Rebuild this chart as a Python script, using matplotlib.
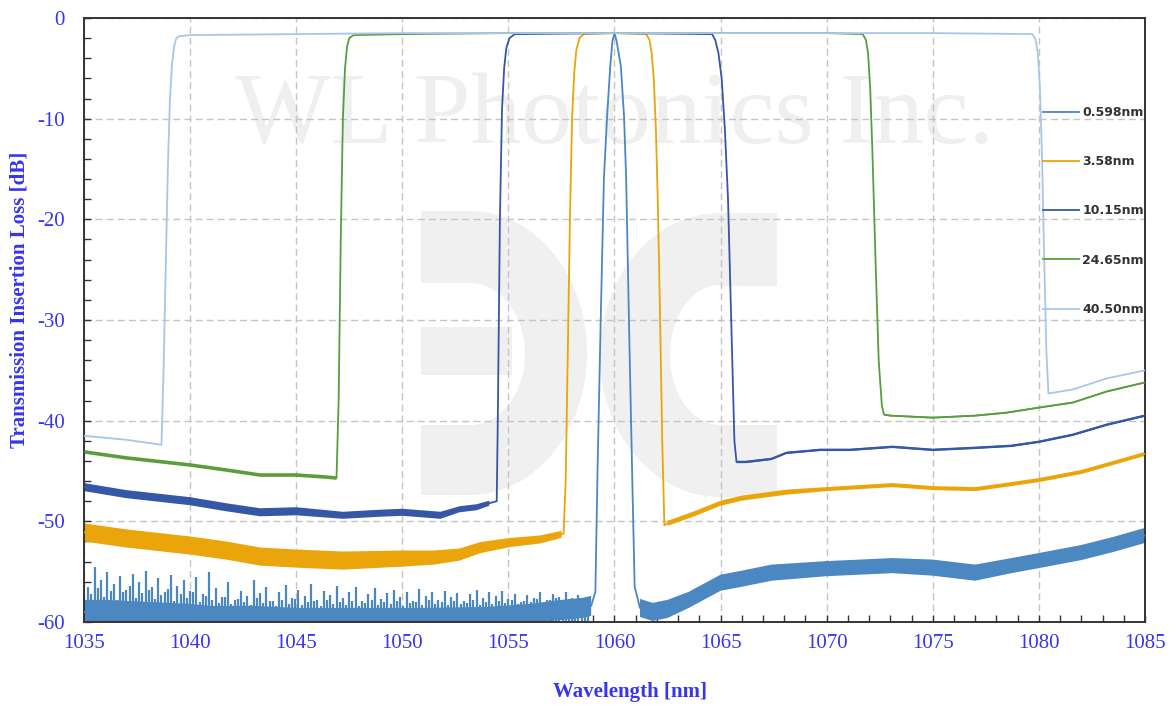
import matplotlib.pyplot as plt
from matplotlib.patches import Rectangle, Ellipse
from matplotlib.ticker import MultipleLocator
import numpy as np

plt.rcParams["axes.unicode_minus"] = False

# ---- data (wavelength nm, insertion loss dB, noise half-width dB) ----
wl_0598 = [1035, 1036, 1037, 1038, 1039, 1040, 1041, 1043, 1045, 1048, 1051, 1054, 1056, 1057.5, 1058.5,
           1058.9, 1059.1, 1059.2, 1059.35, 1059.5, 1059.65, 1059.8, 1059.9, 1060.0, 1060.1, 1060.3,
           1060.45, 1060.55, 1060.7, 1060.85, 1060.95, 1061.2, 1061.8, 1062.5, 1063.5, 1065, 1066,
           1067.4, 1070, 1073.1, 1075, 1077, 1078.7, 1080, 1082, 1083.5, 1085]
il_0598 = [-59.0, -59.0, -59.1, -59.1, -59.2, -59.2, -59.3, -59.3, -59.4, -59.4, -59.4, -59.3, -59.1, -58.8, -58.6,
           -58.4, -57.0, -45.0, -30.0, -16.0, -9.8, -4.8, -2.3, -1.5, -2.3, -4.8,
           -9.8, -16.0, -32.0, -47.0, -56.5, -58.6, -59.0, -58.7, -57.8, -56.1, -55.7,
           -55.1, -54.7, -54.4, -54.6, -55.1, -54.4, -53.9, -53.1, -52.3, -51.4]
nz_0598 = [1.2, 1.2, 1.2, 1.1, 1.1, 1.0, 0.9, 0.9, 0.8, 0.8, 0.8, 0.8, 0.9, 1.0, 1.0,
           1.0, 0, 0, 0, 0, 0, 0, 0, 0, 0, 0,
           0, 0, 0, 0, 0, 0.9, 0.9, 0.9, 0.8, 0.8, 0.8,
           0.8, 0.75, 0.75, 0.8, 0.8, 0.75, 0.75, 0.75, 0.75, 0.75]

# spikes of the 0.598nm noise floor on the short-wavelength side (tall and short ones)
spike_wl = [1035.2, 1035.5, 1035.8, 1036.1, 1036.4, 1036.7, 1037.0, 1037.3, 1037.6, 1037.9, 1038.2, 1038.5,
            1038.8, 1039.1, 1039.4, 1039.7, 1040.0, 1040.3, 1040.6, 1040.9, 1041.2, 1041.5, 1041.8, 1042.1,
            1042.4, 1042.7, 1043.0, 1043.3, 1043.6, 1043.9, 1044.2, 1044.5, 1044.8, 1045.1, 1045.4, 1045.7,
            1046.0, 1046.3, 1046.6, 1046.9, 1047.2, 1047.5, 1047.8, 1048.1, 1048.4, 1048.7, 1049.0, 1049.3,
            1049.6, 1049.9, 1050.2, 1050.5, 1050.8, 1051.1, 1051.4, 1051.7, 1052.0, 1052.3, 1052.6, 1052.9,
            1053.2, 1053.5, 1053.8, 1054.1, 1054.4, 1054.7, 1055.0, 1055.3, 1055.6, 1055.9, 1056.2, 1056.5,
            1056.8, 1057.1, 1057.4, 1057.7, 1058.0, 1058.3, 1058.6]
spike_top = [-56.5, -54.5, -55.8, -55.0, -56.2, -55.4, -56.8, -55.2, -56.0, -54.9, -56.5, -55.6,
             -57.0, -55.3, -56.4, -55.8, -56.9, -55.5, -57.2, -55.0, -56.6, -57.5, -56.0, -57.8,
             -56.9, -57.4, -55.8, -57.1, -56.5, -57.9, -57.0, -56.3, -57.6, -56.8, -57.4, -56.2,
             -57.8, -56.9, -57.3, -56.4, -57.6, -57.0, -56.5, -57.9, -57.2, -56.6, -57.7, -57.1,
             -56.8, -57.5, -57.0, -57.9, -56.7, -57.4, -57.0, -57.8, -56.9, -57.5, -57.1, -57.9,
             -57.2, -56.8, -57.6, -57.0, -57.4, -56.9, -57.7, -57.2, -58.0, -57.3, -57.6, -57.0,
             -57.8, -57.2, -57.5, -57.0, -57.6, -57.3, -57.8]
spike2_wl = [1035.35, 1035.65, 1035.95, 1036.25, 1036.55, 1036.85, 1037.15, 1037.45, 1037.75, 1038.05,
             1038.35, 1038.65, 1038.95, 1039.25, 1039.55, 1039.85, 1040.15, 1040.45, 1040.75, 1041.05,
             1041.35, 1041.65, 1041.95, 1042.25, 1042.55, 1042.85, 1043.15, 1043.45, 1043.75, 1044.05,
             1044.35, 1044.65, 1044.95, 1045.25, 1045.55, 1045.85, 1046.15, 1046.45, 1046.75, 1047.05,
             1047.35, 1047.65, 1047.95, 1048.25, 1048.55, 1048.85, 1049.15, 1049.45, 1049.75, 1050.05,
             1050.35, 1050.65, 1050.95, 1051.25, 1051.55, 1051.85, 1052.15, 1052.45, 1052.75, 1053.05,
             1053.35, 1053.65, 1053.95, 1054.25, 1054.55, 1054.85, 1055.15, 1055.45, 1055.75, 1056.05,
             1056.35, 1056.65, 1056.95, 1057.25, 1057.55, 1057.85, 1058.15, 1058.45, 1058.75]
spike2_top = [-57.2, -56.6, -57.5, -56.9, -57.8, -57.0, -56.4, -57.6, -57.1, -56.8, -57.7, -57.3,
              -56.7, -57.9, -57.2, -57.6, -57.0, -58.0, -57.4, -57.8, -58.1, -57.5, -58.2, -57.7,
              -58.0, -58.3, -57.6, -58.1, -57.9, -58.4, -57.8, -58.2, -57.7, -58.3, -58.0, -57.9,
              -58.4, -57.8, -58.2, -58.0, -58.3, -57.9, -58.4, -58.1, -57.8, -58.3, -58.0, -58.2,
              -57.9, -58.4, -58.1, -58.0, -58.3, -57.8, -58.2, -58.0, -58.3, -57.9, -58.2, -58.1,
              -57.8, -58.3, -58.0, -58.2, -57.9, -58.1, -57.8, -58.2, -57.9, -58.0, -57.7, -58.1,
              -57.8, -57.6, -58.0, -57.7, -57.9, -57.6, -57.9]

wl_358 = [1035, 1037, 1040, 1041.7, 1043.3, 1045, 1047.2, 1050, 1051.5, 1052.7, 1053.7, 1055.1, 1056.5,
          1057.5, 1057.6, 1057.7, 1057.8, 1057.9, 1058.0, 1058.1, 1058.2, 1058.35, 1058.55, 1060,
          1061.5, 1061.65, 1061.75, 1061.85, 1061.95, 1062.05, 1062.15, 1062.25, 1062.35, 1062.5,
          1063.7, 1065, 1066, 1067.4, 1068.1, 1070, 1073.1, 1075, 1077, 1078.7, 1080, 1082, 1085]
il_358 = [-51.1, -51.7, -52.4, -52.9, -53.5, -53.7, -53.9, -53.7, -53.6, -53.3, -52.6, -52.1, -51.8,
          -51.3, -51.2, -46.0, -33.0, -20.0, -10.0, -5.5, -3.2, -2.0, -1.6, -1.5,
          -1.6, -2.2, -3.5, -6.0, -11.0, -19.0, -30.0, -42.0, -50.4, -50.2,
          -49.3, -48.2, -47.7, -47.3, -47.1, -46.8, -46.4, -46.7, -46.8, -46.3, -45.9, -45.1, -43.3]
nz_358 = [0.9, 0.9, 0.9, 0.9, 0.9, 0.9, 0.9, 0.8, 0.7, 0.6, 0.55, 0.45, 0.4,
          0.35, 0, 0, 0, 0, 0, 0, 0, 0, 0, 0,
          0, 0, 0, 0, 0, 0, 0, 0, 0, 0.25,
          0.25, 0.25, 0.25, 0.25, 0.25, 0.2, 0.2, 0.2, 0.2, 0.2, 0.2, 0.2, 0.2]

wl_1015 = [1035, 1037, 1040, 1041.7, 1043.3, 1045, 1047.2, 1048.9, 1050, 1051.8, 1052.7, 1053.5, 1054.1,
           1054.45, 1054.5, 1054.6, 1054.7, 1054.8, 1054.9, 1055.05, 1055.3, 1060,
           1064.6, 1064.75, 1064.9, 1065.05, 1065.2, 1065.35, 1065.5, 1065.65, 1065.75,
           1066.2, 1067.4, 1068.1, 1069.7, 1071.1, 1073.1, 1075, 1077, 1078.7, 1080, 1081.6,
           1083.2, 1085]
il_1015 = [-46.6, -47.3, -48.0, -48.6, -49.1, -49.0, -49.4, -49.2, -49.1, -49.4, -48.8, -48.6, -48.2,
           -48.0, -40.0, -20.0, -9.0, -5.0, -3.0, -2.0, -1.6, -1.5,
           -1.6, -2.2, -3.5, -6.0, -11.0, -18.0, -30.0, -42.0, -44.1,
           -44.1, -43.8, -43.2, -42.9, -42.9, -42.6, -42.9, -42.7, -42.5, -42.1, -41.4,
           -40.4, -39.5]
nz_1015 = [0.4, 0.4, 0.4, 0.4, 0.4, 0.4, 0.35, 0.35, 0.35, 0.35, 0.3, 0.3, 0.25,
           0, 0, 0, 0, 0, 0, 0, 0, 0,
           0, 0, 0, 0, 0, 0, 0, 0, 0.12,
           0.12, 0.12, 0.12, 0.12, 0.12, 0.12, 0.12, 0.12, 0.12, 0.12, 0.12,
           0.12, 0.12]

wl_2465 = [1035, 1037, 1040, 1041.7, 1043.3, 1045, 1046.4, 1046.9, 1047.0, 1047.1, 1047.2, 1047.3, 1047.4,
           1047.5, 1047.7, 1050, 1055, 1060, 1065, 1070, 1071.7, 1071.85, 1071.95, 1072.05, 1072.15,
           1072.3, 1072.45, 1072.6, 1072.7, 1073, 1075, 1077, 1078.5, 1080, 1081.6, 1083.2, 1085]
il_2465 = [-43.1, -43.7, -44.4, -44.9, -45.4, -45.4, -45.6, -45.7, -38.0, -22.0, -10.0, -5.0, -2.8,
           -2.0, -1.7, -1.6, -1.5, -1.5, -1.5, -1.5, -1.6, -2.2, -3.5, -7.0, -13.0,
           -24.0, -34.0, -38.5, -39.4, -39.5, -39.7, -39.5, -39.2, -38.7, -38.2, -37.1, -36.2]
nz_2465 = [0.18, 0.18, 0.18, 0.18, 0.18, 0.18, 0.18, 0.18, 0, 0, 0, 0, 0,
           0, 0, 0, 0, 0, 0, 0, 0, 0, 0, 0, 0,
           0, 0, 0, 0.08, 0.08, 0.08, 0.08, 0.08, 0.08, 0.08, 0.08, 0.08]

wl_4050 = [1035, 1036, 1037, 1038, 1038.65, 1038.75, 1038.85, 1038.95, 1039.05, 1039.15, 1039.25, 1039.35,
           1039.5, 1040, 1045, 1050, 1055, 1060, 1065, 1070, 1075, 1079.7, 1079.85, 1079.95, 1080.05,
           1080.15, 1080.25, 1080.35, 1080.45, 1081.6, 1083.2, 1085]
il_4050 = [-41.5, -41.7, -41.9, -42.2, -42.4, -35.0, -25.0, -15.0, -8.0, -4.5, -2.8, -2.0,
           -1.8, -1.7, -1.6, -1.5, -1.5, -1.5, -1.5, -1.5, -1.5, -1.6, -2.2, -3.5, -7.0,
           -14.0, -24.0, -33.0, -37.3, -36.9, -35.8, -35.0]

labels = ["0.598nm", "3.58nm", "10.15nm", "24.65nm", "40.50nm"]
colors = ["#4b87c1", "#e9a50a", "#3657a6", "#5b9c3d", "#a8c7e8"]

# ---- figure ----
fig = plt.figure(figsize=(11.74, 7.06), dpi=100)
ax = fig.add_axes([84 / 1174, 1 - 622 / 706, (1145 - 84) / 1174, (622 - 18) / 706])

# watermark: logo and company name
W, H = 1061.0, 604.0


def ax_xy(px, py):
    return (px - 84) / W, (622 - py) / H


def rect(x0, y0, x1, y1, color):
    return Rectangle(ax_xy(x0, y1), (x1 - x0) / W, (y1 - y0) / H, transform=ax.transAxes,
                     color=color, lw=0, zorder=0.1)


def half_ell(cx, cy, rx, ry, side, color):
    e = Ellipse(ax_xy(cx, cy), 2 * rx / W, 2 * ry / H, transform=ax.transAxes,
                color=color, lw=0, zorder=0.1)
    ax.add_patch(e)
    if side == "right":
        c = rect(cx, cy - ry - 1, cx + rx + 1, cy + ry + 1, "none")
    else:
        c = rect(cx - rx - 1, cy - ry - 1, cx, cy + ry + 1, "none")
    ax.add_patch(c)
    c.set_visible(False)
    e.set_clip_path(c)


logo = "#f0f0f0"
# left glyph
ax.add_patch(rect(421, 211, 470, 495, logo))
half_ell(470, 353, 117, 142, "right", logo)
ax.add_patch(rect(421, 283, 470, 425, "white"))
half_ell(470, 354, 55, 71, "right", "white")
ax.add_patch(rect(421, 327, 512, 375, logo))
# right glyph
ax.add_patch(rect(720, 213, 777, 497, logo))
half_ell(720, 355, 120, 142, "left", logo)
ax.add_patch(rect(720, 286, 778, 425, "white"))
half_ell(720, 355, 50, 70, "left", "white")

ax.text(0.5, 0.834, "WL Photonics Inc.", transform=ax.transAxes, ha="center", va="center",
        family="Liberation Serif", fontsize=73, color="#efefef", zorder=0.2)

# ---- traces ----
ax.vlines(spike_wl, -60, spike_top, color=colors[0], lw=1.6, zorder=2)
ax.vlines(spike2_wl, -60, spike2_top, color=colors[0], lw=1.6, zorder=2)

series = [(wl_0598, il_0598, nz_0598), (wl_358, il_358, nz_358), (wl_1015, il_1015, nz_1015),
          (wl_2465, il_2465, nz_2465), (wl_4050, il_4050, None)]
for (wl, il, nz), lab, col in zip(series, labels, colors):
    wl = np.array(wl)
    il = np.array(il)
    if nz is not None:
        nz = np.array(nz)
        ax.fill_between(wl, il - nz, il + nz, where=nz > 0, color=col, lw=0, zorder=2)
    ax.plot(wl, il, color=col, lw=1.3, label=lab, zorder=3)

# ---- axes styling ----
ax.set_xlim(1035, 1085)
ax.set_ylim(-60, 0)
ax.xaxis.set_major_locator(MultipleLocator(5))
ax.xaxis.set_minor_locator(MultipleLocator(1))
ax.yaxis.set_major_locator(MultipleLocator(10))
ax.yaxis.set_minor_locator(MultipleLocator(2))
ax.set_axisbelow(True)
ax.grid(True, which="major", color="#c4c4c4", ls=(0, (5, 3)), lw=1.0, zorder=0.5)
for s in ax.spines.values():
    s.set_color("#333333")
    s.set_linewidth(1.4)
ax.tick_params(which="both", direction="in", length=5, width=1, color="#333333",
               top=False, right=False)
ax.tick_params(axis="x", pad=9, labelsize=15, labelcolor="#3535f2")
ax.tick_params(axis="y", pad=14, labelsize=15, labelcolor="#3535f2")
for t in ax.get_xticklabels() + ax.get_yticklabels():
    t.set_family("Liberation Serif")

fig.text(20 / 1174, 1 - 300 / 706, "Transmission Insertion Loss [dB]", rotation=90,
         ha="center", va="center", family="Liberation Serif", fontweight="bold",
         fontsize=15, color="#3535f2")
fig.text(630 / 1174, 1 - 692 / 706, "Wavelength [nm]", ha="center", va="center",
         family="Liberation Serif", fontweight="bold", fontsize=15, color="#3535f2")

leg = ax.legend(loc="upper left", bbox_to_anchor=ax_xy(1043, 106), frameon=False,
                prop={"family": "DejaVu Sans", "weight": "bold", "size": 9},
                labelspacing=2.9, handlelength=2.9, handletextpad=0.25, borderpad=0,
                borderaxespad=0)
for t in leg.get_texts():
    t.set_color("#333333")

fig.savefig("out.png", dpi=100)
